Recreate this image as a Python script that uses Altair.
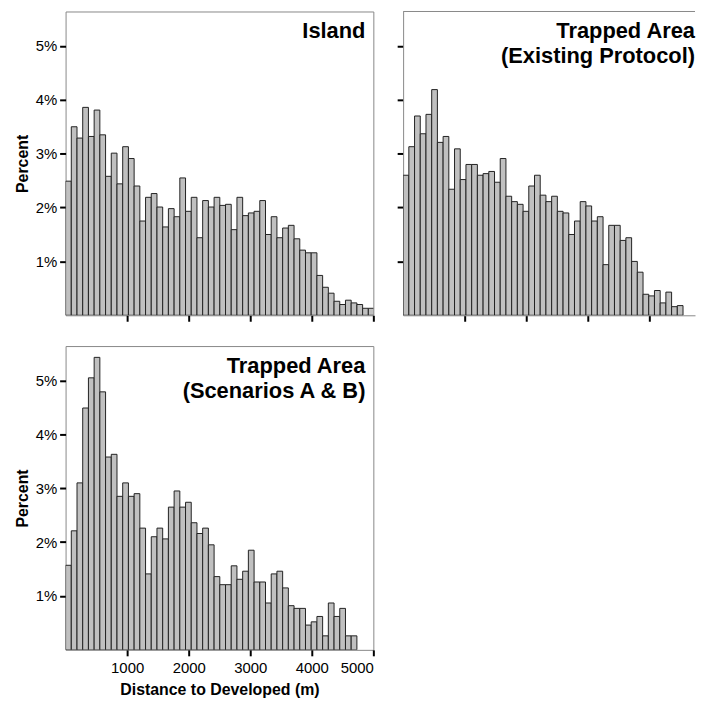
import altair as alt
import pandas as pd

# Percent of cells per distance bin (bin width ~92.8 m)
island = [2.49, 3.50, 3.29, 3.86, 3.32, 3.81, 3.35, 2.58, 3.01, 2.44,
          3.13, 2.91, 2.40, 1.75, 2.19, 2.26, 2.01, 1.64, 1.98, 1.83,
          2.55, 1.93, 2.19, 1.44, 2.13, 2.01, 2.19, 2.04, 2.06, 1.59,
          2.19, 1.85, 1.90, 1.93, 2.13, 1.50, 1.83, 1.44, 1.62, 1.67,
          1.42, 1.21, 1.16, 1.16, 0.74, 0.52, 0.41, 0.26, 0.20, 0.28,
          0.23, 0.20, 0.13, 0.13]
existing = [2.60, 3.13, 3.70, 3.37, 3.73, 4.19, 3.21, 3.32, 2.34, 3.09,
            2.52, 2.80, 2.80, 2.60, 2.63, 2.67, 2.47, 2.91, 2.21, 2.11,
            2.06, 1.93, 2.40, 2.60, 2.23, 2.11, 2.21, 1.93, 1.90, 1.50,
            1.75, 2.11, 2.03, 1.75, 1.83, 0.94, 1.67, 1.67, 1.39, 1.44,
            1.00, 0.80, 0.39, 0.36, 0.46, 0.23, 0.43, 0.16, 0.18]
scenarios = [1.57, 2.21, 3.10, 4.49, 5.05, 5.43, 4.79, 3.58, 3.63, 2.85,
             3.10, 2.85, 2.90, 2.26, 1.41, 2.10, 2.26, 2.06, 2.65, 2.95,
             2.65, 2.74, 2.36, 2.16, 2.26, 1.95, 1.36, 1.21, 1.21, 1.56,
             1.31, 1.46, 1.85, 1.26, 1.26, 0.87, 1.41, 1.46, 1.15, 0.82,
             0.77, 0.77, 0.46, 0.52, 0.62, 0.26, 0.87, 0.62, 0.77, 0.26,
             0.26]

BIN_W = 92.8
X_MAX = 5000
X_TICKS = [1000, 2000, 3000, 4000, 5000]
Y_TICKS = [1, 2, 3, 4, 5]
W, H = 310, 306
Y_MAX = 5.64
FONT = "Liberation Sans"
FRAME = "#888888"


def frame(vals):
    return pd.DataFrame({
        "start": [i * BIN_W for i in range(len(vals))],
        "end": [(i + 1) * BIN_W for i in range(len(vals))],
        "pct": vals,
    })


def panel(vals, title_lines, x_labels, y_labels, width=W, title_x=W - 8):
    df = frame(vals)
    xmax = X_MAX * width / W
    cut = width < W
    x_axis = alt.Axis(values=[t for t in X_TICKS if t <= xmax], labels=x_labels,
                      format="d", domain=cut, domainColor=FRAME, domainWidth=1,
                      title="Distance to Developed (m)" if x_labels else None)
    y_axis = alt.Axis(values=Y_TICKS, labels=y_labels,
                      labelExpr="datum.value + '%'",
                      domain=cut, domainColor=FRAME, domainWidth=1,
                      title="Percent" if y_labels else None)
    bars = alt.Chart(df).mark_bar(
        fill="#c0c0c0", stroke="#222222", strokeWidth=1, clip=True
    ).encode(
        x=alt.X("start:Q", scale=alt.Scale(domain=[0, xmax], nice=False, zero=False),
                axis=x_axis),
        x2="end:Q",
        y=alt.Y("pct:Q", scale=alt.Scale(domain=[0, Y_MAX], nice=False), axis=y_axis),
        y2=alt.datum(0),
    )
    one = pd.DataFrame({"k": [0]})
    label = alt.Chart(one).mark_text(
        align="right", baseline="top", font=FONT, fontSize=22,
        fontWeight="bold", color="#000000", lineHeight=25
    ).encode(
        x=alt.value(title_x), y=alt.value(10),
        text=alt.value(title_lines),
    )
    layers = [bars, label]
    if cut:
        top = alt.Chart(one).mark_rule(color=FRAME, strokeWidth=1).encode(
            x=alt.value(0), x2=alt.value(width), y=alt.value(0)
        )
        layers.append(top)
        return alt.layer(*layers).properties(
            width=width, height=H, view=alt.ViewBackground(stroke="transparent"))
    return alt.layer(*layers).properties(width=width, height=H)


p1 = panel(island, ["Island"], False, True)
p2 = panel(existing, ["Trapped Area", "(Existing Protocol)"], False, False,
           width=294, title_x=294)
p3 = panel(scenarios, ["Trapped Area", "(Scenarios A & B)"], True, True)

chart = alt.concat(p1, p2, p3, columns=2, spacing={"row": 22, "column": 20}).properties(
    padding={"left": 5, "top": 0, "right": 0, "bottom": 0}
).configure_view(
    stroke=FRAME, strokeWidth=1
).configure_axis(
    domain=False, grid=False, ticks=True, tickSize=6, tickWidth=2,
    tickColor="#000000", labelFont=FONT, labelFontSize=15, labelColor="#000000",
    titleFont=FONT, titleFontSize=16, titleFontWeight="bold", titleColor="#000000"
).configure_axisX(
    labelPadding=5, titlePadding=6
).configure_axisY(
    labelPadding=3, titlePadding=5
)

chart.save("out.html", embed_options={"renderer": "svg", "actions": False})
